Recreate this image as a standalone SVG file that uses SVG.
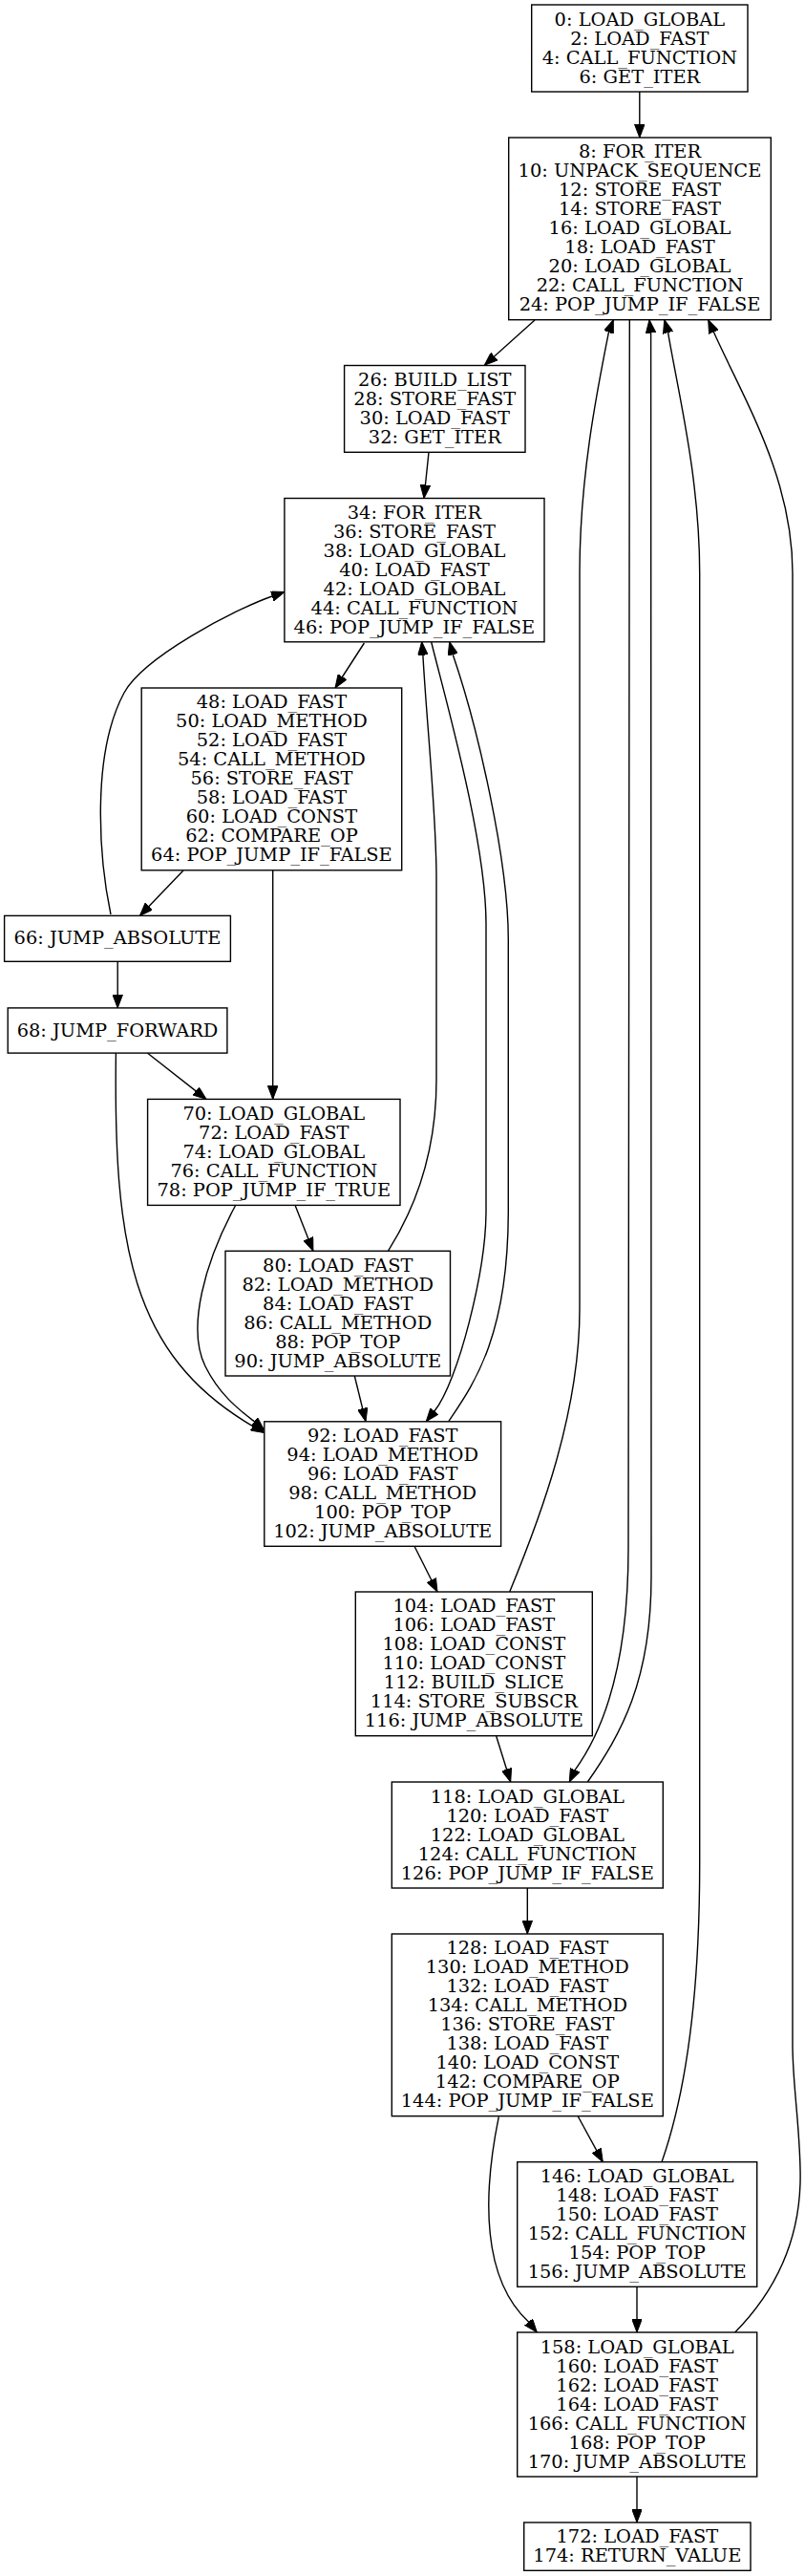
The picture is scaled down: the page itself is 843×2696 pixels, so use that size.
<svg xmlns="http://www.w3.org/2000/svg" width="843" height="2696" viewBox="0 0 843 2696">
<style>
.n rect{fill:#fff;stroke:#000;stroke-width:1.4}
.n text{font-family:"DejaVu Serif","Liberation Serif",serif;font-size:19.4px;fill:#000;text-anchor:middle}
.e path{fill:none;stroke:#000;stroke-width:1.4;marker-end:url(#ah)}
</style>
<defs>
<marker id="ah" markerWidth="14" markerHeight="10.6" refX="14" refY="5.3" orient="auto" markerUnits="userSpaceOnUse"><path d="M0,0 L14,5.3 L0,10.6 z" fill="#000" stroke="#000" stroke-width="1"/></marker>
</defs>
<rect x="0" y="0" width="843" height="2696" fill="#fff"/>
<g id="edges" class="e">
<path d="M669.8,96 L669.8,144"/>
<path d="M560,335 L507.3,382.3"/>
<path d="M449,473.3 L444,521.5"/>
<path d="M381.4,673 L351,720"/>
<path d="M192,911 L146.4,958.4"/>
<path d="M116,957 C104,900 95,790 130,725 C150,688 245,638 285,624 L298,619.5"/>
<path d="M123.2,1006.3 L123.2,1054.9"/>
<path d="M285.7,911 L285.7,1150.4"/>
<path d="M154.3,1102 L216,1150.4"/>
<path d="M121.4,1102 C119,1300 135.8,1417.6 264.8,1492.6 L276.8,1499.6"/>
<path d="M309.3,1262 L327.9,1309.3"/>
<path d="M246.4,1262 C215,1320 195,1390 215,1430 C230,1460 250,1475 266.3,1487.8 L276.8,1497"/>
<path d="M406.4,1309.3 C425,1280 457,1220 457,1130 L457,920 C457,850 447,760 442.9,685.7 L441.7,671.7"/>
<path d="M451.7,672 C466,730 509,880 509,967 L509,1267 C509,1330 479.8,1445.6 455,1476.8 L446.3,1487.7"/>
<path d="M469.7,1487.7 C495,1450 532.3,1400 532.3,1267 L532.3,983 C532.3,900 500,760 474.3,685.2 L470.7,671.7"/>
<path d="M371.3,1440 L383,1487.7"/>
<path d="M434,1618.3 L458,1666"/>
<path d="M533.7,1666 C565,1590 607,1480 607,1370 L607,600 C607,500 625,410 637.4,347.8 L642.3,334.7"/>
<path d="M659.3,334.7 L658,1620 C658,1720 640,1800 602.2,1852.3 L596.3,1865"/>
<path d="M615.3,1865 C650,1815 682,1760 682,1650 L681.6,348.7 L680,334.7"/>
<path d="M519.7,1817 L534.7,1865"/>
<path d="M552.3,1976 L552.3,2024"/>
<path d="M605.3,2215 L631.3,2262.7"/>
<path d="M522.3,2215.3 C505,2300 505,2385 553.5,2430.1 L562.3,2441"/>
<path d="M693,2262.7 C715,2200 732.7,2100 732.7,1950 L732.7,600 C732.7,500 710,410 699.6,348.1 L695.7,334.7"/>
<path d="M667,2393.3 L667,2441"/>
<path d="M769.7,2441 C815,2395 840,2340 838,2270 C837,2220 830,2180 830,2140 L830,600 C830,500 780,420 747.4,347.5 L741.7,334.7"/>
<path d="M667,2592 L667,2640"/>
</g>
<g id="n0" class="n"><rect x="556.7" y="5" width="226.3" height="91"/><text><tspan x="669.85" y="26.5">0: LOAD_GLOBAL</tspan><tspan x="669.85" dy="20">2: LOAD_FAST</tspan><tspan x="669.85" dy="20">4: CALL_FUNCTION</tspan><tspan x="669.85" dy="20">6: GET_ITER</tspan></text></g>
<g id="n8" class="n"><rect x="532.7" y="144" width="274.6" height="190.7"/><text><tspan x="670" y="165.35">8: FOR_ITER</tspan><tspan x="670" dy="20">10: UNPACK_SEQUENCE</tspan><tspan x="670" dy="20">12: STORE_FAST</tspan><tspan x="670" dy="20">14: STORE_FAST</tspan><tspan x="670" dy="20">16: LOAD_GLOBAL</tspan><tspan x="670" dy="20">18: LOAD_FAST</tspan><tspan x="670" dy="20">20: LOAD_GLOBAL</tspan><tspan x="670" dy="20">22: CALL_FUNCTION</tspan><tspan x="670" dy="20">24: POP_JUMP_IF_FALSE</tspan></text></g>
<g id="n26" class="n"><rect x="360.6" y="382.5" width="189.4" height="90.8"/><text><tspan x="455.3" y="403.9">26: BUILD_LIST</tspan><tspan x="455.3" dy="20">28: STORE_FAST</tspan><tspan x="455.3" dy="20">30: LOAD_FAST</tspan><tspan x="455.3" dy="20">32: GET_ITER</tspan></text></g>
<g id="n34" class="n"><rect x="297.9" y="521.5" width="272.1" height="150.3"/><text><tspan x="433.95" y="542.65">34: FOR_ITER</tspan><tspan x="433.95" dy="20">36: STORE_FAST</tspan><tspan x="433.95" dy="20">38: LOAD_GLOBAL</tspan><tspan x="433.95" dy="20">40: LOAD_FAST</tspan><tspan x="433.95" dy="20">42: LOAD_GLOBAL</tspan><tspan x="433.95" dy="20">44: CALL_FUNCTION</tspan><tspan x="433.95" dy="20">46: POP_JUMP_IF_FALSE</tspan></text></g>
<g id="n48" class="n"><rect x="148.2" y="720" width="272.5" height="190.8"/><text><tspan x="284.45" y="741.4">48: LOAD_FAST</tspan><tspan x="284.45" dy="20">50: LOAD_METHOD</tspan><tspan x="284.45" dy="20">52: LOAD_FAST</tspan><tspan x="284.45" dy="20">54: CALL_METHOD</tspan><tspan x="284.45" dy="20">56: STORE_FAST</tspan><tspan x="284.45" dy="20">58: LOAD_FAST</tspan><tspan x="284.45" dy="20">60: LOAD_CONST</tspan><tspan x="284.45" dy="20">62: COMPARE_OP</tspan><tspan x="284.45" dy="20">64: POP_JUMP_IF_FALSE</tspan></text></g>
<g id="n66" class="n"><rect x="4.6" y="958.4" width="236.8" height="47.9"/><text><tspan x="123" y="988.35">66: JUMP_ABSOLUTE</tspan></text></g>
<g id="n68" class="n"><rect x="8.2" y="1054.9" width="229.7" height="47.2"/><text><tspan x="123.05" y="1084.5">68: JUMP_FORWARD</tspan></text></g>
<g id="n70" class="n"><rect x="154.6" y="1150.4" width="264.4" height="111"/><text><tspan x="286.8" y="1171.9">70: LOAD_GLOBAL</tspan><tspan x="286.8" dy="20">72: LOAD_FAST</tspan><tspan x="286.8" dy="20">74: LOAD_GLOBAL</tspan><tspan x="286.8" dy="20">76: CALL_FUNCTION</tspan><tspan x="286.8" dy="20">78: POP_JUMP_IF_TRUE</tspan></text></g>
<g id="n80" class="n"><rect x="236" y="1309.3" width="235.5" height="130.7"/><text><tspan x="353.75" y="1330.65">80: LOAD_FAST</tspan><tspan x="353.75" dy="20">82: LOAD_METHOD</tspan><tspan x="353.75" dy="20">84: LOAD_FAST</tspan><tspan x="353.75" dy="20">86: CALL_METHOD</tspan><tspan x="353.75" dy="20">88: POP_TOP</tspan><tspan x="353.75" dy="20">90: JUMP_ABSOLUTE</tspan></text></g>
<g id="n92" class="n"><rect x="276.8" y="1487.8" width="247.8" height="130.5"/><text><tspan x="400.7" y="1509.05">92: LOAD_FAST</tspan><tspan x="400.7" dy="20">94: LOAD_METHOD</tspan><tspan x="400.7" dy="20">96: LOAD_FAST</tspan><tspan x="400.7" dy="20">98: CALL_METHOD</tspan><tspan x="400.7" dy="20">100: POP_TOP</tspan><tspan x="400.7" dy="20">102: JUMP_ABSOLUTE</tspan></text></g>
<g id="n104" class="n"><rect x="372.3" y="1666" width="248" height="150.7"/><text><tspan x="496.3" y="1687.35">104: LOAD_FAST</tspan><tspan x="496.3" dy="20">106: LOAD_FAST</tspan><tspan x="496.3" dy="20">108: LOAD_CONST</tspan><tspan x="496.3" dy="20">110: LOAD_CONST</tspan><tspan x="496.3" dy="20">112: BUILD_SLICE</tspan><tspan x="496.3" dy="20">114: STORE_SUBSCR</tspan><tspan x="496.3" dy="20">116: JUMP_ABSOLUTE</tspan></text></g>
<g id="n118" class="n"><rect x="410.3" y="1865" width="284" height="111"/><text><tspan x="552.3" y="1886.5">118: LOAD_GLOBAL</tspan><tspan x="552.3" dy="20">120: LOAD_FAST</tspan><tspan x="552.3" dy="20">122: LOAD_GLOBAL</tspan><tspan x="552.3" dy="20">124: CALL_FUNCTION</tspan><tspan x="552.3" dy="20">126: POP_JUMP_IF_FALSE</tspan></text></g>
<g id="n128" class="n"><rect x="410.3" y="2024" width="284" height="190.7"/><text><tspan x="552.3" y="2045.35">128: LOAD_FAST</tspan><tspan x="552.3" dy="20">130: LOAD_METHOD</tspan><tspan x="552.3" dy="20">132: LOAD_FAST</tspan><tspan x="552.3" dy="20">134: CALL_METHOD</tspan><tspan x="552.3" dy="20">136: STORE_FAST</tspan><tspan x="552.3" dy="20">138: LOAD_FAST</tspan><tspan x="552.3" dy="20">140: LOAD_CONST</tspan><tspan x="552.3" dy="20">142: COMPARE_OP</tspan><tspan x="552.3" dy="20">144: POP_JUMP_IF_FALSE</tspan></text></g>
<g id="n146" class="n"><rect x="541.7" y="2262.7" width="251" height="130.6"/><text><tspan x="667.2" y="2284">146: LOAD_GLOBAL</tspan><tspan x="667.2" dy="20">148: LOAD_FAST</tspan><tspan x="667.2" dy="20">150: LOAD_FAST</tspan><tspan x="667.2" dy="20">152: CALL_FUNCTION</tspan><tspan x="667.2" dy="20">154: POP_TOP</tspan><tspan x="667.2" dy="20">156: JUMP_ABSOLUTE</tspan></text></g>
<g id="n158" class="n"><rect x="541.7" y="2441" width="251" height="151"/><text><tspan x="667.2" y="2462.5">158: LOAD_GLOBAL</tspan><tspan x="667.2" dy="20">160: LOAD_FAST</tspan><tspan x="667.2" dy="20">162: LOAD_FAST</tspan><tspan x="667.2" dy="20">164: LOAD_FAST</tspan><tspan x="667.2" dy="20">166: CALL_FUNCTION</tspan><tspan x="667.2" dy="20">168: POP_TOP</tspan><tspan x="667.2" dy="20">170: JUMP_ABSOLUTE</tspan></text></g>
<g id="n172" class="n"><rect x="548.7" y="2640" width="237.3" height="50.3"/><text><tspan x="667.35" y="2661.15">172: LOAD_FAST</tspan><tspan x="667.35" dy="20">174: RETURN_VALUE</tspan></text></g>
</svg>
